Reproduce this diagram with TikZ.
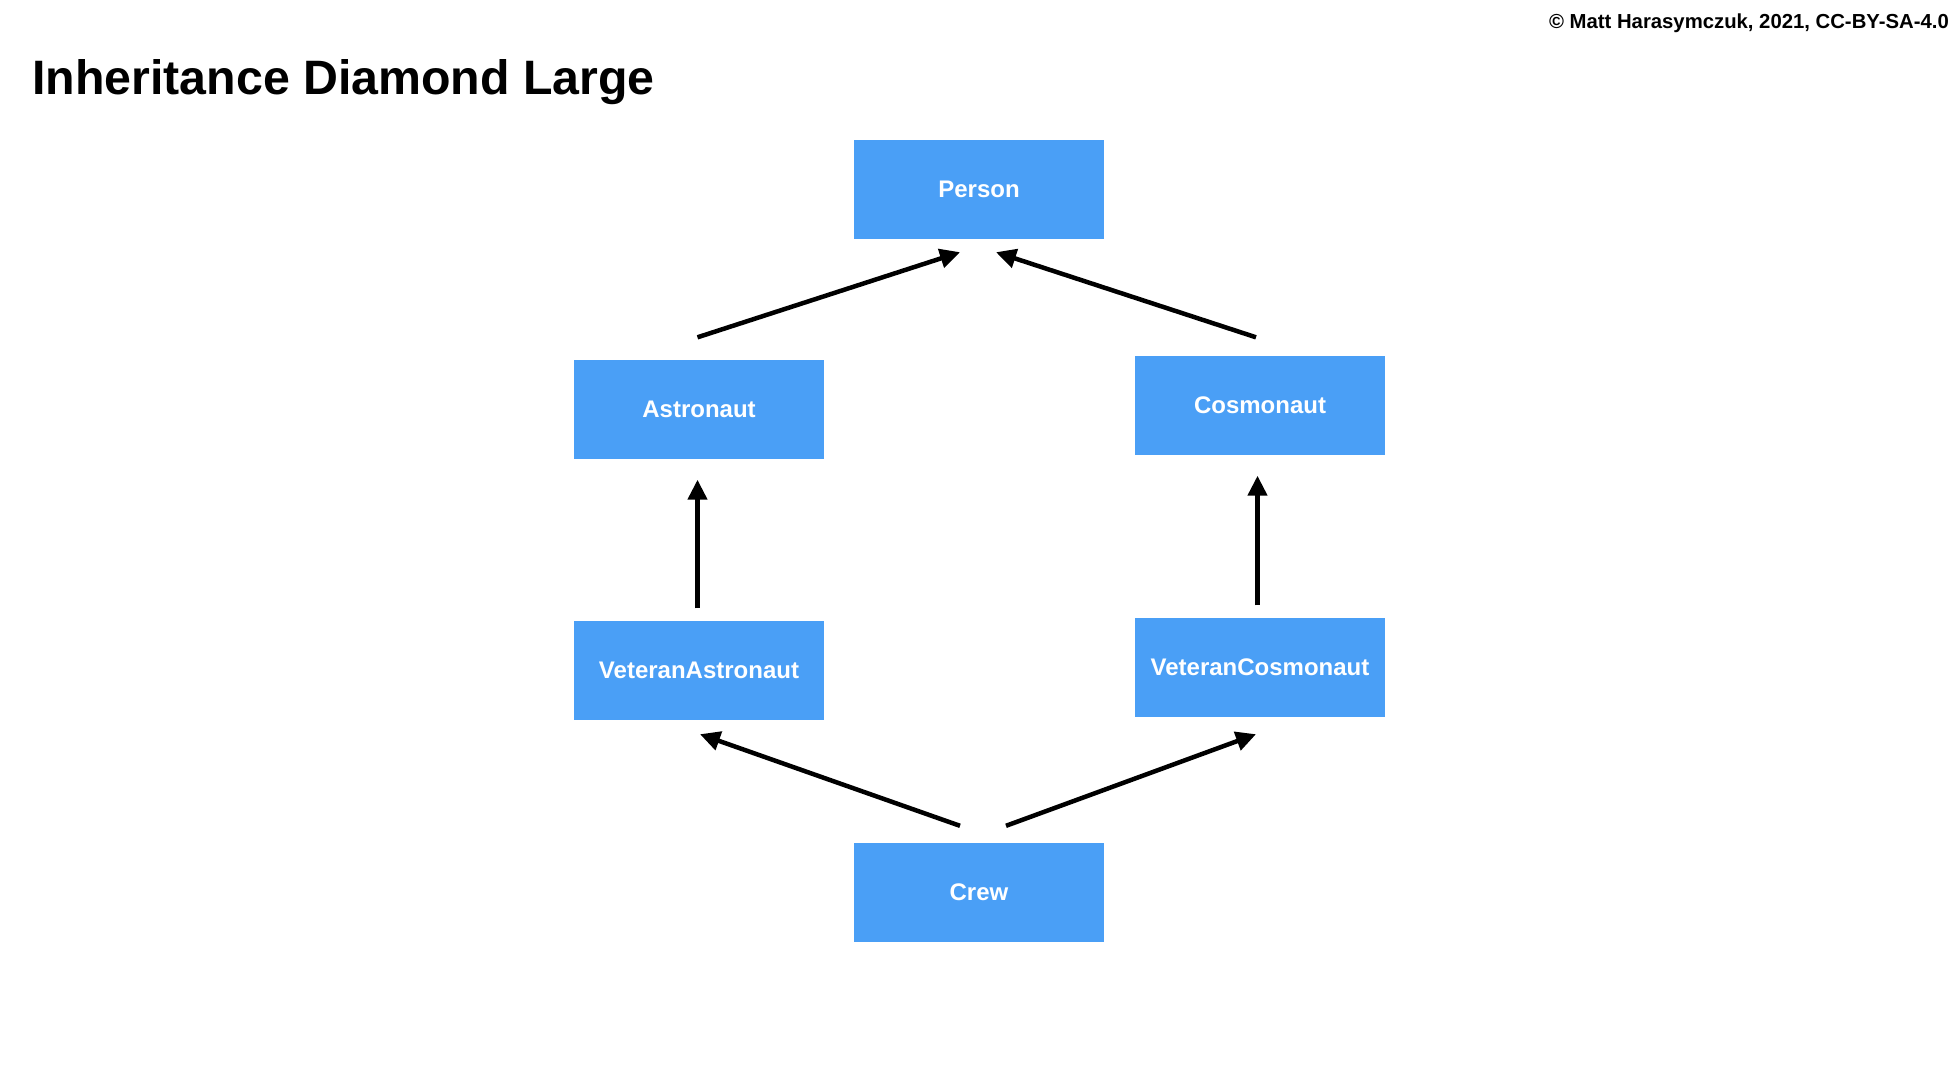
\documentclass[tikz,border=0pt]{standalone}
\usepackage{fontspec}
\setmainfont{Liberation Sans}
\usetikzlibrary{arrows.meta,calc}
\definecolor{boxblue}{RGB}{74,159,246}
\tikzset{
  cls/.style={fill=boxblue, draw=none, minimum width=250pt, minimum height=99pt, inner sep=0pt,
    text=white, font=\fontsize{24}{28}\selectfont\bfseries},
  inh/.style={line width=4.5pt, -{Triangle[length=20pt,width=19pt]}}
}
\begin{document}
\begin{tikzpicture}[x=1pt,y=-1pt]
\useasboundingbox (0,0) rectangle (1960,1080);
\fill[white] (0,0) rectangle (1960,1080);
\node[anchor=base west, inner sep=0pt, font=\fontsize{48.3}{56}\selectfont\bfseries] (title) at (32,94) {Inheritance Diamond Large};
\node[anchor=base east, inner sep=0pt, font=\fontsize{20.3}{24}\selectfont\bfseries] (copy) at (1949,28) {© Matt Harasymczuk, 2021, CC-BY-SA-4.0};

\node[cls] (p) at (979,189) {Person};
\node[cls] (a) at (699,409) {Astronaut};
\node[cls] (c) at (1260,405) {Cosmonaut};
\node[cls] (va) at (699,670) {VeteranAstronaut};
\node[cls] (vc) at (1260,667) {VeteranCosmonaut};
\node[cls] (cr) at (979,892.5) {Crew};

\draw[inh] ($(a.north)+(-1.5,-22)$) -- ($(p.south)+(-19,13.5)$);
\draw[inh] ($(c.north)+(-4,-18)$) -- ($(p.south)+(17,13.5)$);
\draw[inh] ($(va.north)+(-1.5,-12)$) -- ($(a.south)+(-1.5,21)$);
\draw[inh] ($(vc.north)+(-2.5,-12)$) -- ($(c.south)+(-2.5,21)$);
\draw[inh] ($(cr.north)+(-19,-17)$) -- ($(va.south)+(1,14.5)$);
\draw[inh] ($(cr.north)+(27,-17)$) -- ($(vc.south)+(-4,17.5)$);
\end{tikzpicture}
\end{document}
